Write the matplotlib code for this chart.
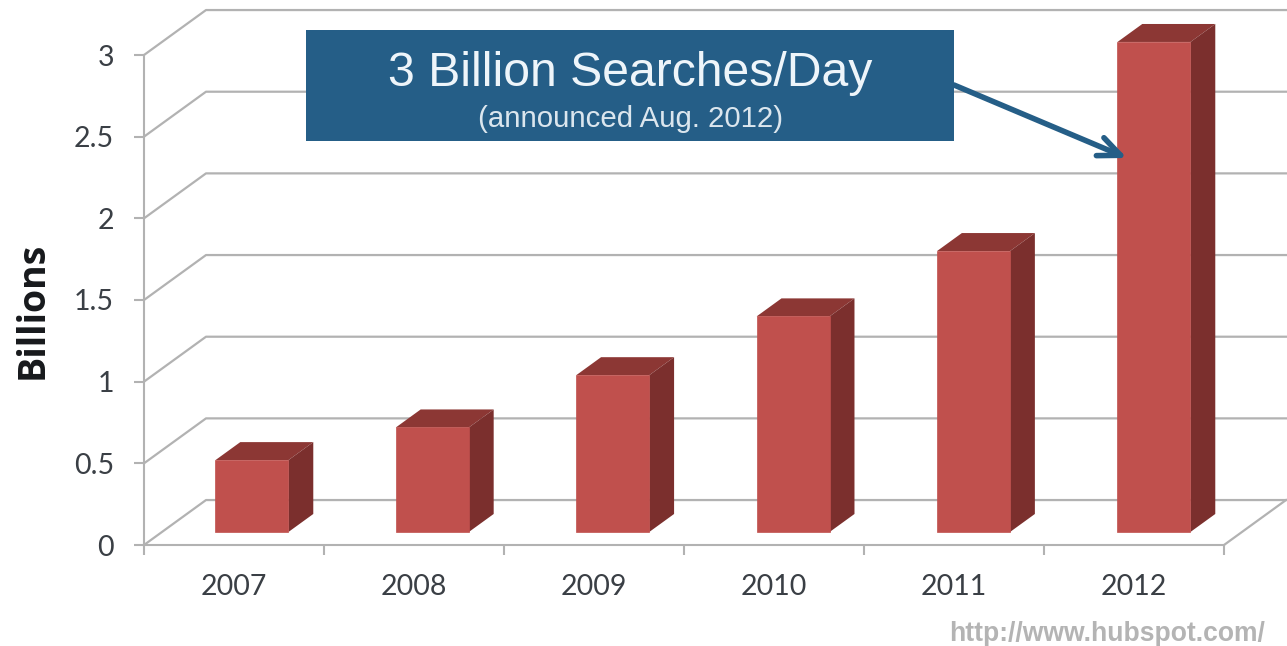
import matplotlib
matplotlib.use("Agg")
import matplotlib.pyplot as plt
from matplotlib.patches import Polygon, Rectangle

# searches per day, in billions
years = ["2007", "2008", "2009", "2010", "2011", "2012"]
searches = [0.44, 0.64, 0.96, 1.32, 1.72, 3.0]
y_ticks = [0, 0.5, 1, 1.5, 2, 2.5, 3]
y_labels = ["0", "0.5", "1", "1.5", "2", "2.5", "3"]

W, H = 1287, 646
GREY = "#b2b2b2"
TEXT = "#3a3f45"
FRONT = "#c0504d"
TOP = "#8c3734"
SIDE = "#7b2f2d"
BLUE = "#255e87"

# fake 3d: how far the back wall sits behind the front plane, in data units
DEPTH_X = 62 / 180
DEPTH_Y = 45 / 163.5
BAR_W = 73 / 180
BAR_STEP = 180.4 / 180
NEAR = 0.29
FAR = 0.69

fig = plt.figure(figsize=(W / 100, H / 100), dpi=100)
ax = fig.add_axes([144 / W, 1 - 545 / H, 1080 / W, 490 / H])
ax.set_xlim(0, 6)
ax.set_ylim(0, 3)
ax.patch.set_alpha(0)

for name in ["top", "right"]:
    ax.spines[name].set_visible(False)
for name in ["left", "bottom"]:
    ax.spines[name].set_color(GREY)
    ax.spines[name].set_linewidth(1.5)

ax.set_yticks(y_ticks)
ax.set_yticklabels(y_labels, fontsize=20.5, color=TEXT, family="Lato")
ax.set_xticks(range(7))
ax.set_xticklabels([])
ax.set_xticks([i + 0.5 for i in range(6)], minor=True)
ax.set_xticklabels(years, minor=True, fontsize=20.5, color=TEXT, family="Lato")
ax.tick_params(axis="both", which="major", color=GREY, width=1.5, length=7.5)
ax.tick_params(axis="y", which="major", pad=14)
ax.tick_params(axis="x", which="minor", length=0, pad=21)

# gridlines run back from the axis, then along the wall
for v in y_ticks:
    ax.plot([0, DEPTH_X, 6.4], [v, v + DEPTH_Y, v + DEPTH_Y], color=GREY, lw=1.6,
            zorder=1, clip_on=False)
ax.plot([6, 6 + DEPTH_X], [0, DEPTH_Y], color=GREY, lw=1.6, zorder=1, clip_on=False)

for i, val in enumerate(searches):
    x0 = i * BAR_STEP + 0.5 - BAR_W / 2 + NEAR * DEPTH_X
    x1 = x0 + BAR_W
    y0 = NEAR * DEPTH_Y
    y1 = y0 + val
    dx = (FAR - NEAR) * DEPTH_X
    dy = (FAR - NEAR) * DEPTH_Y
    ax.bar(x0, val, BAR_W, bottom=y0, align="edge", color=FRONT, edgecolor=FRONT,
           lw=0.5, zorder=4, clip_on=False)
    ax.add_patch(Polygon([(x0, y1), (x1, y1), (x1 + dx, y1 + dy), (x0 + dx, y1 + dy)],
                         color=TOP, lw=0, zorder=3, clip_on=False))
    ax.add_patch(Polygon([(x1, y0), (x1 + dx, y0 + dy), (x1 + dx, y1 + dy), (x1, y1)],
                         color=SIDE, lw=0, zorder=3, clip_on=False))

# callout and outer labels are placed in pixel space
over = fig.add_axes([0, 0, 1, 1])
over.set_xlim(0, W)
over.set_ylim(H, 0)
over.axis("off")

over.add_patch(Rectangle((306, 30), 648, 111, color=BLUE, lw=0))
over.text(630, 74, "3 Billion Searches/Day", color="#eef5fa", fontsize=34.7,
          family="Liberation Sans", ha="center", va="center")
over.text(630.5, 119, "(announced Aug. 2012)", color="#dbe6ee", fontsize=21.2,
          family="Liberation Sans", ha="center", va="center")
over.annotate("", xy=(1127, 158), xytext=(954, 85),
              arrowprops=dict(arrowstyle="->,head_length=1.6,head_width=0.7",
                              color=BLUE, lw=4, shrinkA=0, shrinkB=0))

over.text(33, 310, "Billions", rotation=90, color="#17191c", fontsize=27,
          fontweight="bold", family="Open Sans", ha="center", va="center")
over.text(1265, 634, "http://www.hubspot.com/", color="#b4b4b4", fontsize=19.1,
          fontweight="bold", family="Liberation Sans", ha="right", va="center")

fig.savefig("out.png", dpi=100)
